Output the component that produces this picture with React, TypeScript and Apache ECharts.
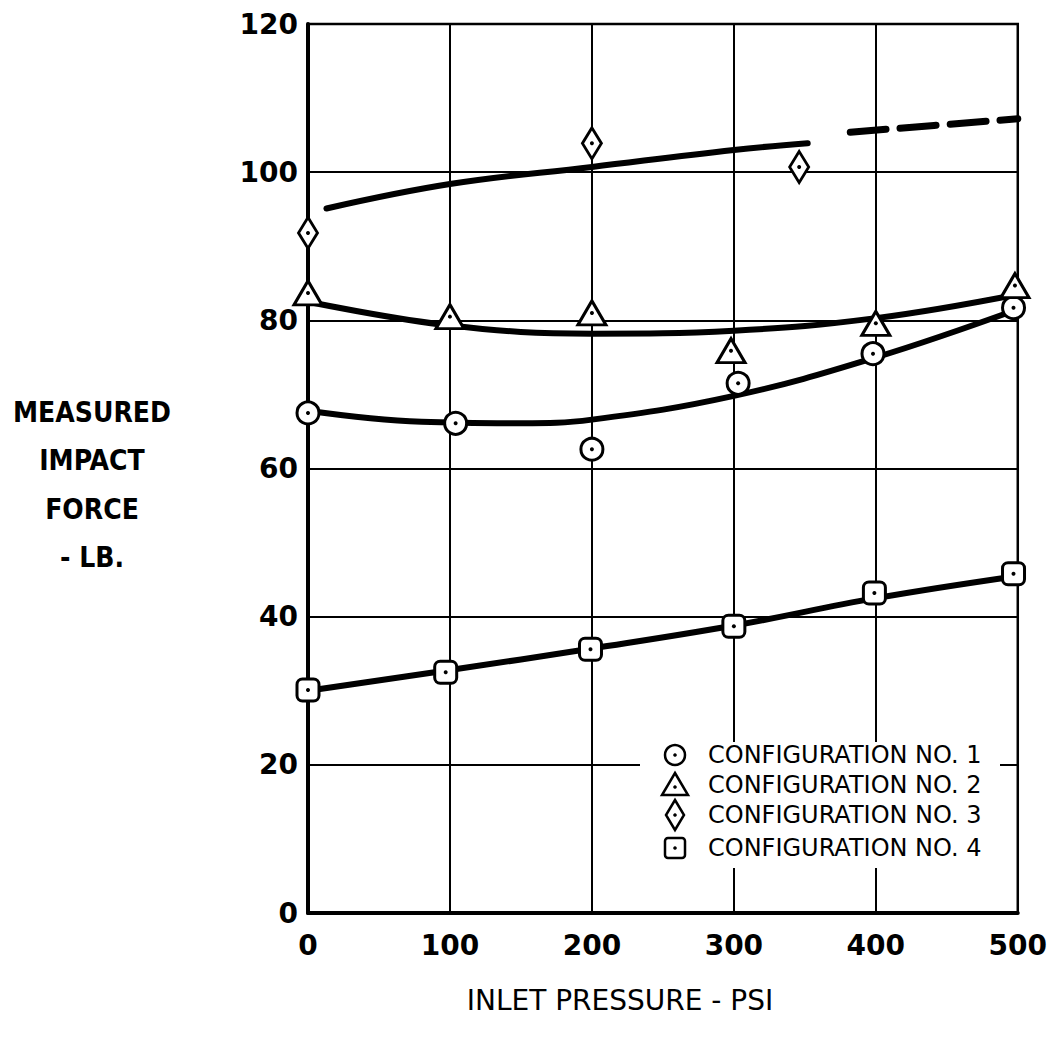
import React, { useEffect, useRef } from "react";
import * as echarts from "echarts";

// Tick labels
const xTicks = [0, 100, 200, 300, 400, 500];
const yTicks = [0, 20, 40, 60, 80, 100, 120];

// Measured points (inlet pressure psi, impact force lb)
const config1Pts: [number, number][] = [[0, 67.5], [104, 66.1], [200, 62.6], [303, 71.5], [398, 75.5], [497, 81.7]];
const config2Pts: [number, number][] = [[0, 83.7], [100, 80.5], [200, 81.0], [298, 75.9], [400, 79.6], [498, 84.7]];
const config3Pts: [number, number][] = [[0, 91.8], [200, 103.9], [346, 100.7]];
const config4Pts: [number, number][] = [[0, 30.1], [97, 32.5], [199, 35.6], [300, 38.7], [399, 43.2], [497, 45.8]];

// Faired curves
const curve1: [number, number][] = [[0, 67.8], [80, 66.3], [150, 66.1], [200, 66.6], [300, 69.8], [400, 75.0], [500, 81.5]];
const curve2: [number, number][] = [[0, 82.5], [100, 79.3], [200, 78.2], [300, 78.6], [400, 80.3], [500, 83.5]];
const curve3Solid: [number, number][] = [[13, 95.1], [100, 98.4], [200, 100.7], [300, 103.0], [352, 103.9]];
const curve3Dashed: [number, number][] = [[382, 105.4], [500, 107.2]];
const curve4: [number, number][] = [[0, 30.0], [100, 32.8], [200, 35.7], [300, 38.8], [400, 42.5], [500, 45.5]];

const legendLabels = ["CONFIGURATION NO. 1", "CONFIGURATION NO. 2", "CONFIGURATION NO. 3", "CONFIGURATION NO. 4"];
const yTitleLines = ["MEASURED", "IMPACT", "FORCE", "- LB."];
const xTitle = "INLET PRESSURE - PSI";

export default function App() {
  const ref = useRef<HTMLDivElement>(null);
  useEffect(() => {
    if (!ref.current) return;
    const chart = echarts.init(ref.current, undefined, { renderer: "svg" });
    const black = "#000";
    const markerStyle = { color: "#fff", borderColor: black, borderWidth: 3, opacity: 1 };
    const lineSeries = (data: [number, number][], width: number, type: any = "solid") => ({
      type: "line",
      data,
      smooth: 0.4,
      showSymbol: false,
      symbol: "none",
      silent: true,
      z: 2,
      lineStyle: { color: black, width, type, cap: "round" },
    });
    const scatter = (data: [number, number][], symbol: string, size: any) => ({
      type: "scatter",
      data,
      symbol,
      symbolSize: size,
      itemStyle: markerStyle,
      z: 4,
      silent: true,
    });
    const dots = (data: [number, number][]) => ({
      type: "scatter",
      data,
      symbol: "circle",
      symbolSize: 4,
      itemStyle: { color: black, opacity: 1 },
      z: 5,
      silent: true,
    });

    const lx = 675;
    const rows = [755, 785, 815, 848];
    const graphics: any[] = [
      { type: "rect", z: 100, shape: { x: 640, y: 742, width: 360, height: 126 }, style: { fill: "#fff" } },
      { type: "circle", z: 101, shape: { cx: lx, cy: rows[0], r: 10 }, style: { fill: "#fff", stroke: black, lineWidth: 2.5 } },
      { type: "polygon", z: 101, shape: { points: [[lx, rows[1] - 12], [lx + 13, rows[1] + 10], [lx - 13, rows[1] + 10]] }, style: { fill: "#fff", stroke: black, lineWidth: 2.5 } },
      { type: "polygon", z: 101, shape: { points: [[lx, rows[2] - 15], [lx + 9, rows[2]], [lx, rows[2] + 15], [lx - 9, rows[2]]] }, style: { fill: "#fff", stroke: black, lineWidth: 2.5 } },
      { type: "rect", z: 101, shape: { x: lx - 10, y: rows[3] - 10, width: 20, height: 20, r: 3 }, style: { fill: "#fff", stroke: black, lineWidth: 2.5 } },
    ];
    rows.forEach((ry, i) => {
      graphics.push({ type: "circle", z: 102, shape: { cx: lx, cy: i === 1 ? ry + 2 : ry, r: 1.8 }, style: { fill: black } });
      graphics.push({
        type: "text", z: 102, x: 708, y: ry,
        style: { text: legendLabels[i], fill: black, font: "24px 'DejaVu Sans'", verticalAlign: "middle" },
      });
    });
    yTitleLines.forEach((t, i) => {
      graphics.push({
        type: "text", z: 102, x: 92, y: 412 + i * 48.5,
        style: { text: t, fill: black, font: "bold 28px 'DejaVu Sans Condensed', 'DejaVu Sans'", align: "center", verticalAlign: "middle" },
      });
    });
    graphics.push({
      type: "text", z: 102, x: 620, y: 1000,
      style: { text: xTitle, fill: black, font: "28px 'DejaVu Sans'", align: "center", verticalAlign: "middle" },
    });

    chart.setOption({
      animation: false,
      backgroundColor: "#fff",
      grid: { left: 308, right: 31, top: 24, bottom: 130, show: true, borderColor: black, borderWidth: 2.5 },
      xAxis: {
        type: "value",
        min: xTicks[0],
        max: xTicks[xTicks.length - 1],
        interval: 100,
        axisLine: { show: true, lineStyle: { color: black, width: 4 } },
        axisTick: { show: false },
        splitLine: { show: true, lineStyle: { color: black, width: 2 } },
        axisLabel: { color: black, fontSize: 28, fontWeight: "bold", fontFamily: "DejaVu Sans", margin: 18 },
      },
      yAxis: {
        type: "value",
        min: yTicks[0],
        max: yTicks[yTicks.length - 1],
        interval: 20,
        axisLine: { show: true, lineStyle: { color: black, width: 4 } },
        axisTick: { show: false },
        splitLine: { show: true, lineStyle: { color: black, width: 2 } },
        axisLabel: { color: black, fontSize: 28, fontWeight: "bold", fontFamily: "DejaVu Sans", margin: 10 },
      },
      graphic: graphics,
      series: [
        lineSeries(curve1, 6),
        lineSeries(curve2, 6),
        lineSeries(curve3Solid, 6),
        lineSeries(curve3Dashed, 7, [36, 14]),
        lineSeries(curve4, 6),
        scatter(config1Pts, "circle", 22),
        scatter(config2Pts, "triangle", [28, 24]),
        scatter(config3Pts, "diamond", [19, 31]),
        scatter(config4Pts, "roundRect", 22),
        dots(config1Pts),
        dots(config2Pts),
        dots(config3Pts),
        dots(config4Pts),
      ],
    });
    return () => chart.dispose();
  }, []);
  return <div ref={ref} style={{ position: "fixed", left: 0, top: 0, width: 1050, height: 1043 }} />;
}
